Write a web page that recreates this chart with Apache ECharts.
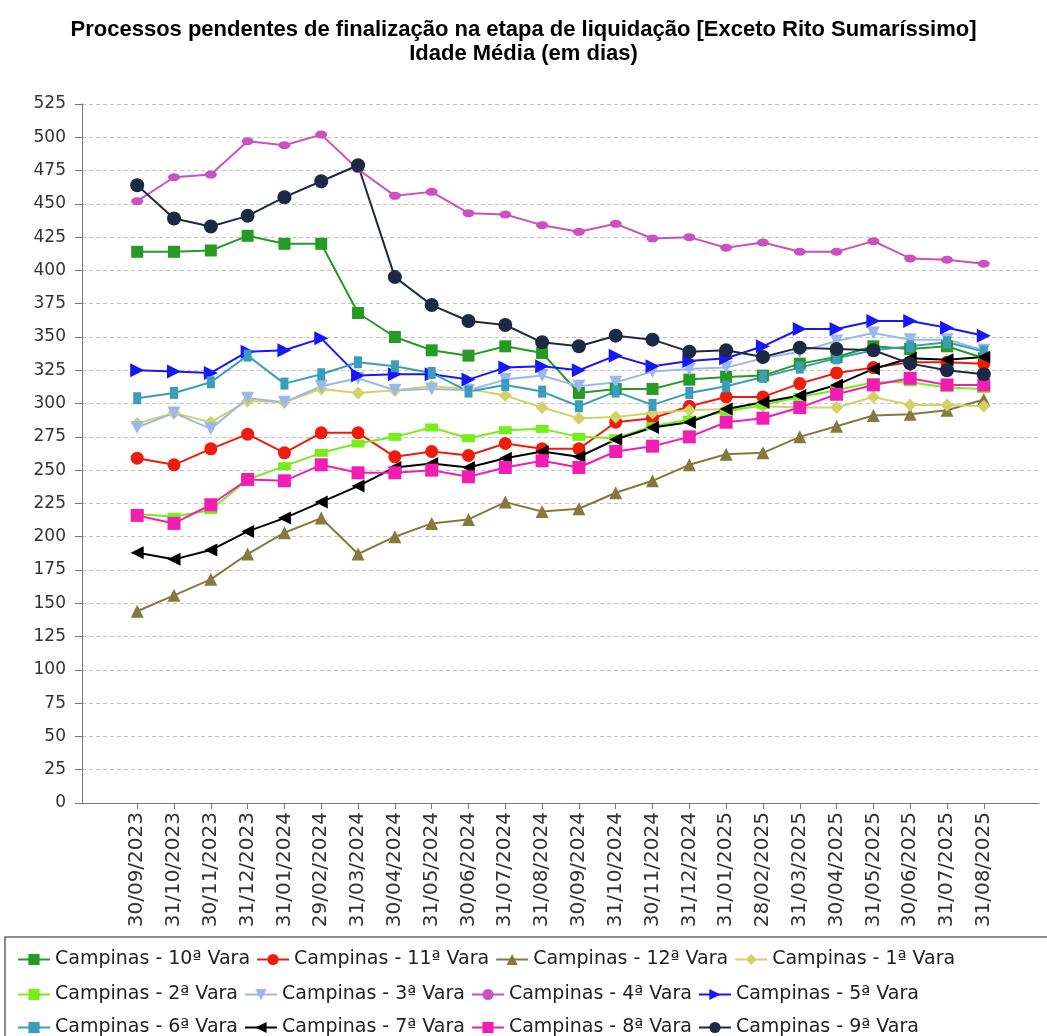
<!DOCTYPE html>
<html>
<head>
<meta charset="utf-8">
<script src="https://cdn.jsdelivr.net/npm/echarts@6/dist/echarts.min.js"></script>
<style>
html,body{margin:0;padding:0;background:#fff;}
#chart{width:1047px;height:1036px;}
</style>
</head>
<body>
<div id="chart"></div>
<script>
const categories = ['30/09/2023','31/10/2023','30/11/2023','31/12/2023','31/01/2024','29/02/2024','31/03/2024','30/04/2024','31/05/2024','30/06/2024','31/07/2024','31/08/2024','30/09/2024','31/10/2024','30/11/2024','31/12/2024','31/01/2025','28/02/2025','31/03/2025','30/04/2025','31/05/2025','30/06/2025','31/07/2025','31/08/2025'];
const yTicks = [0,25,50,75,100,125,150,175,200,225,250,275,300,325,350,375,400,425,450,475,500,525];

const seriesNames = ['Campinas - 10ª Vara','Campinas - 11ª Vara','Campinas - 12ª Vara','Campinas - 1ª Vara','Campinas - 2ª Vara','Campinas - 3ª Vara','Campinas - 4ª Vara','Campinas - 5ª Vara','Campinas - 6ª Vara','Campinas - 7ª Vara','Campinas - 8ª Vara','Campinas - 9ª Vara'];

const vara10 = [414,414,415,426,420,420,368,350,340,336,343,338,308,311,311,318,320,321,330,335,343,341,343,334];
const vara11 = [259,254,266,277,263,278,278,260,264,261,270,266,266,286,289,298,305,305,315,323,327,331,331,330];
const vara12 = [144,156,168,187,203,214,187,200,210,213,226,219,221,233,242,254,262,263,275,283,291,292,295,303];
const vara1  = [285,293,286,302,301,311,308,310,313,311,306,297,289,290,293,295,296,298,297,297,305,299,299,298];
const vara2  = [217,215,220,243,253,263,270,275,282,274,280,281,275,274,283,288,294,299,305,310,316,316,312,311];
const vara3  = [282,293,281,304,301,313,319,310,311,310,318,321,313,316,324,326,327,334,339,347,353,348,348,340];
const vara4  = [452,470,472,497,494,502,476,456,459,443,442,434,429,435,424,425,417,421,414,414,422,409,408,405];
const vara5  = [325,324,323,339,340,349,321,322,322,318,327,328,325,336,328,332,334,343,356,356,362,362,357,351];
const vara6  = [304,308,316,336,315,322,331,328,323,309,314,309,298,309,299,308,313,320,327,334,340,343,346,339];
const vara7  = [188,183,190,204,214,226,238,252,255,252,259,264,260,273,282,286,296,301,306,314,326,334,333,335];
const vara8  = [216,210,224,243,242,254,248,248,250,245,252,257,252,264,268,275,286,289,297,307,314,319,314,314];
const vara9  = [464,439,433,441,455,467,479,395,374,362,359,346,343,351,348,339,340,335,342,341,340,330,325,322];

const allValues = [vara10,vara11,vara12,vara1,vara2,vara3,vara4,vara5,vara6,vara7,vara8,vara9];

const styles = [
  {color:'#259a25', symbol:'rect', size:12, rotate:0},
  {color:'#ee1c0c', symbol:'circle', size:13, rotate:0},
  {color:'#857a3e', symbol:'triangle', size:13, rotate:0},
  {color:'#d2d26a', symbol:'diamond', size:13, rotate:0},
  {color:'#77ee1a', symbol:'rect', size:[13,8], rotate:0},
  {color:'#9cb8ea', symbol:'triangle', size:13, rotate:180},
  {color:'#cc50bf', symbol:'circle', size:[12,8], rotate:0},
  {color:'#1616ff', symbol:'triangle', size:14, rotate:-90},
  {color:'#3a9dbd', symbol:'rect', size:[8,12], rotate:0},
  {color:'#000000', symbol:'triangle', size:13, rotate:90},
  {color:'#f21eb4', symbol:'rect', size:13, rotate:0},
  {color:'#1c2844', symbol:'circle', size:14, rotate:0}
];

const FONT = 'DejaVu Sans';

const series = seriesNames.map((name, k) => ({
  name: name,
  type: 'line',
  data: allValues[k].map((v, i) => [i, v]),
  symbol: styles[k].symbol,
  symbolSize: styles[k].size,
  symbolRotate: styles[k].rotate,
  showAllSymbol: true,
  lineStyle: {color: styles[k].color, width: 2},
  itemStyle: {color: styles[k].color, borderWidth: 0},
  emphasis: {disabled: true},
  animation: false
}));

const legendRows = [seriesNames.slice(0,4), seriesNames.slice(4,8), seriesNames.slice(8,12)];
const legendTops = [945, 980, 1013];

const chart = echarts.init(document.getElementById('chart'), null, {renderer: 'canvas'});
chart.setOption({
  backgroundColor: '#ffffff',
  animation: false,
  title: {
    text: 'Processos pendentes de finalização na etapa de liquidação [Exceto Rito Sumaríssimo]\nIdade Média (em dias)',
    left: 'center',
    top: 13,
    textStyle: {fontFamily: 'Liberation Sans', fontWeight: 'bold', fontSize: 22, color: '#000', lineHeight: 24}
  },
  legend: legendRows.map((row, r) => ({
    data: row,
    left: 12,
    top: legendTops[r],
    orient: 'horizontal',
    itemWidth: 32,
    itemHeight: 14,
    itemGap: 6,
    textStyle: {fontFamily: FONT, fontSize: 19, color: '#222'},
    selectedMode: false
  })),
  graphic: [{
    type: 'rect',
    shape: {x: 5, y: 937, width: 1060, height: 120},
    style: {fill: 'none', stroke: '#666', lineWidth: 1.5},
    silent: true
  }],
  grid: {left: 82, right: 8, top: 104, bottom: 233, containLabel: false},
  xAxis: {
    type: 'value',
    min: -1.5,
    max: 24.5,
    axisLine: {show: true, onZero: false, lineStyle: {color: '#777', width: 1}},
    axisTick: {show: true, length: 6, customValues: categories.map((c, i) => i), lineStyle: {color: '#777'}},
    axisLabel: {
      customValues: categories.map((c, i) => i),
      formatter: v => categories[Math.round(v)] || '',
      rotate: 90,
      margin: 9,
      fontFamily: FONT,
      fontSize: 20,
      color: '#333'
    },
    splitLine: {show: false}
  },
  yAxis: {
    type: 'value',
    min: 0,
    max: 525,
    interval: 25,
    axisLine: {show: true, onZero: false, lineStyle: {color: '#777', width: 1}},
    axisTick: {show: true, length: 7, lineStyle: {color: '#777'}},
    axisLabel: {fontFamily: FONT, fontSize: 17, color: '#333', margin: 16},
    splitLine: {show: true, lineStyle: {color: '#c4c4c4', type: [4, 3], width: 1}}
  },
  series: series
});
</script>
</body>
</html>
